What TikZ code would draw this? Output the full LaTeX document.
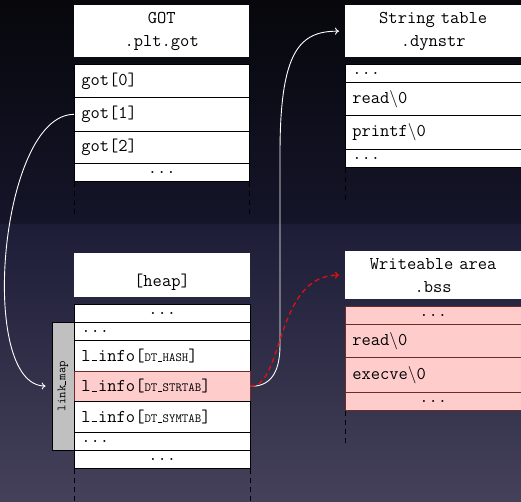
\documentclass[tikz,border=0pt]{standalone}
\usetikzlibrary{arrows.meta}
\definecolor{bgA}{HTML}{07070C}
\definecolor{bgB}{HTML}{15152A}
\definecolor{bgC}{HTML}{1D1D37}
\definecolor{bgD}{HTML}{45415A}
\definecolor{pinkfill}{HTML}{FFCCCC}
\definecolor{pinkdraw}{HTML}{6B2B2B}
\definecolor{linkgray}{HTML}{C0C0C0}
\definecolor{redarrow}{HTML}{E01010}
\newcommand\myusc{\leavevmode\kern.06em\vbox{\hrule width.3em height 0.06em}\kern.06em}
\begin{document}
\begin{tikzpicture}[x=1pt,y=-1pt,
  mainfont/.style={font=\ttfamily\fontsize{18}{23}\selectfont},
  cell/.style={mainfont, draw=black, fill=white, line width=0.7pt, anchor=north west,
    inner xsep=7pt, inner ysep=0pt, text width=161pt},
  lcell/.style={cell, align=left},
  ccell/.style={cell, align=center},
  pinkcell/.style={fill=pinkfill, draw=pinkdraw},
  titlebox/.style={mainfont, fill=white, anchor=north west, inner sep=0pt,
    text width=175pt, align=center},
  colline/.style={draw=black, line width=0.8pt, dash pattern=on 5pt off 4pt},
  warrow/.style={draw=white, line width=0.9pt, -{To[length=4pt,width=7pt]}, shorten >=6pt},
  rarrow/.style={draw=redarrow, line width=1.3pt, dash pattern=on 5pt off 3.5pt, -{To[length=4pt,width=7pt]}, shorten >=6pt},
  small/.style={font=\ttfamily\fontsize{12.5}{14}\selectfont}
]
\useasboundingbox (0,0) rectangle (521,502);
\shade[top color=bgA, bottom color=bgB] (0,0) rectangle (521,225);
\shade[top color=bgC, bottom color=bgD] (0,225) rectangle (521,502);

% GOT column
\node[titlebox, minimum height=52pt] (gottitle) at (74,5) {GOT\\.plt.got};
\node[lcell, minimum height=33pt] (got0) at (74,64) {got[0]};
\node[lcell, minimum height=34pt] (got1) at (74,97) {got[1]};
\node[lcell, minimum height=32pt] (got2) at (74,131) {got[2]};
\node[ccell, minimum height=18pt] (gotdots) at (74,163) {...};
\draw[colline] (gotdots.south west) -- ++(0,36);
\draw[colline] (gotdots.south east) -- ++(0,36);

% String table column
\node[titlebox, text width=176pt, minimum height=52pt] (strtitle) at (345,5) {String table\\.dynstr};
\node[lcell, text width=162pt, minimum height=18pt] (sdotsa) at (345,64) {...};
\node[lcell, text width=162pt, minimum height=33pt] (sread) at (345,82) {read$\backslash$0};
\node[lcell, text width=162pt, minimum height=34pt] (sprintf) at (345,115) {printf$\backslash$0};
\node[lcell, text width=162pt, minimum height=18pt] (sdotsb) at (345,149) {...};
\draw[colline] (sdotsb.south west) -- ++(0,36);

% heap column
\node[titlebox, text width=176pt, minimum height=44pt] (heaptitle) at (74,253) {};
\node[mainfont] (heaplbl) at (162,282) {[heap]};
\node[draw=black, fill=linkgray, line width=0.7pt, rotate=90, minimum width=128pt,
  minimum height=22pt, inner sep=0pt, small] (linkmap) at (63,386) {link\myusc map};
\node[ccell, text width=162pt, minimum height=18pt] (hdotsa) at (74,304) {...};
\node[lcell, text width=162pt, minimum height=18pt] (hdotsb) at (74,322) {...};
\node[lcell, text width=162pt, minimum height=31pt] (hhash) at (74,340) {l\myusc info[{\fontsize{12.5}{14}\selectfont DT\myusc HASH}]};
\node[lcell, pinkcell, text width=162pt, minimum height=30pt] (hstr) at (74,371) {l\myusc info[{\fontsize{12.5}{14}\selectfont DT\myusc STRTAB}]};
\node[lcell, text width=162pt, minimum height=31pt] (hsym) at (74,401) {l\myusc info[{\fontsize{12.5}{14}\selectfont DT\myusc SYMTAB}]};
\node[lcell, text width=162pt, minimum height=18pt] (hdotsc) at (74,432) {...};
\node[ccell, text width=162pt, minimum height=18pt] (hdotsd) at (74,450) {...};
\draw[colline] (hdotsd.south west) -- ++(0,36);
\draw[colline] (hdotsd.south east) -- ++(0,36);

% writeable area column
\node[titlebox, text width=176pt, minimum height=48pt] (bsstitle) at (345,251) {Writeable area\\.bss};
\node[ccell, pinkcell, text width=162pt, minimum height=18pt] (wdotsa) at (345,306) {...};
\node[lcell, pinkcell, text width=162pt, minimum height=33pt] (wread) at (345,324) {read$\backslash$0};
\node[lcell, pinkcell, text width=162pt, minimum height=35pt] (wexec) at (345,357) {execve$\backslash$0};
\node[ccell, pinkcell, text width=162pt, minimum height=18pt] (wdotsb) at (345,392) {...};
\draw[colline] (wdotsb.south west) -- ++(0,34);

% connectors
\draw[warrow] (got1.west) to[out=180,in=180,looseness=0.7] (linkmap.north);
\draw[warrow] (hstr.east) .. controls +(18,0) and (280,375) .. (280,345)
   -- (280,153) .. controls (280,50) and (300,31) .. (strtitle.west);
\draw[rarrow] (hstr.east) .. controls +(33,0) and (275,275) .. (bsstitle.west);
\end{tikzpicture}
\end{document}
